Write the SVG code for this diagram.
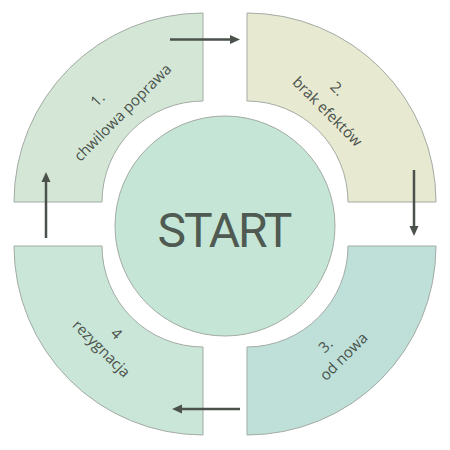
<svg xmlns="http://www.w3.org/2000/svg" width="450" height="450" viewBox="0 0 450 450">
  <style>
    .seg { stroke: #a3aba4; stroke-width: 1; }
    .lbl { font-family: "Open Sans", "Liberation Sans", sans-serif; font-size: 15px; fill: #4a524c; text-anchor: middle; dominant-baseline: central; }
    .arrow { stroke: #4b524c; stroke-width: 2.5; fill: none; marker-end: url(#ah); }
    .start { font-family: Roboto, "Liberation Sans", sans-serif; font-size: 48px; fill: #4e5a52; text-anchor: middle; }
  </style>
  <defs>
    <marker id="ah" viewBox="0 0 10 10" refX="5" refY="5" markerWidth="10" markerHeight="10" markerUnits="userSpaceOnUse" orient="auto">
      <path d="M0,0.5 L10,5 L0,9.5 Z" fill="#4b524c"/>
    </marker>
  </defs>
  <rect width="450" height="450" fill="#ffffff"/>

  <g id="node-1">
    <path class="seg" fill="#d4e7d7" d="M203,13 A189,189 0 0 0 14,202 L102,202 A101,101 0 0 1 203,101 Z"/>
    <text class="lbl" transform="translate(97,99) rotate(-45)">1.</text>
    <text class="lbl" transform="translate(122,112) rotate(-45)">chwilowa poprawa</text>
  </g>
  <g id="node-2">
    <path class="seg" fill="#e7e9d1" d="M247,13 A189,189 0 0 1 436,202 L348,202 A101,101 0 0 0 247,101 Z"/>
    <text class="lbl" transform="translate(338,88) rotate(45)">2.</text>
    <text class="lbl" transform="translate(328,111) rotate(45)">brak efektów</text>
  </g>
  <g id="node-3">
    <path class="seg" fill="#bee0d9" d="M436,246 A189,189 0 0 1 247,435 L247,347 A101,101 0 0 0 348,246 Z"/>
    <text class="lbl" transform="translate(325,345) rotate(-45)">3.</text>
    <text class="lbl" transform="translate(343,356) rotate(-45)">od nowa</text>
  </g>
  <g id="node-4">
    <path class="seg" fill="#cae6d8" d="M203,435 A189,189 0 0 1 14,246 L102,246 A101,101 0 0 0 203,347 Z"/>
    <text class="lbl" transform="translate(117,333) rotate(45)">4</text>
    <text class="lbl" transform="translate(102,348) rotate(45)">rezygnacja</text>
  </g>
  <g id="node-start">
    <circle cx="225" cy="226" r="110" fill="#c5e5d6" stroke="#a3aba4" stroke-width="1"/>
    <text class="start" x="224" y="247" letter-spacing="-2">START</text>
  </g>

  <g id="connectors">
    <line class="arrow" x1="170" y1="39.5" x2="235" y2="39.5"/>
    <line class="arrow" x1="414" y1="170" x2="414" y2="231"/>
    <line class="arrow" x1="240" y1="409" x2="177" y2="409"/>
    <line class="arrow" x1="46" y1="238" x2="46" y2="177"/>
  </g>
</svg>
